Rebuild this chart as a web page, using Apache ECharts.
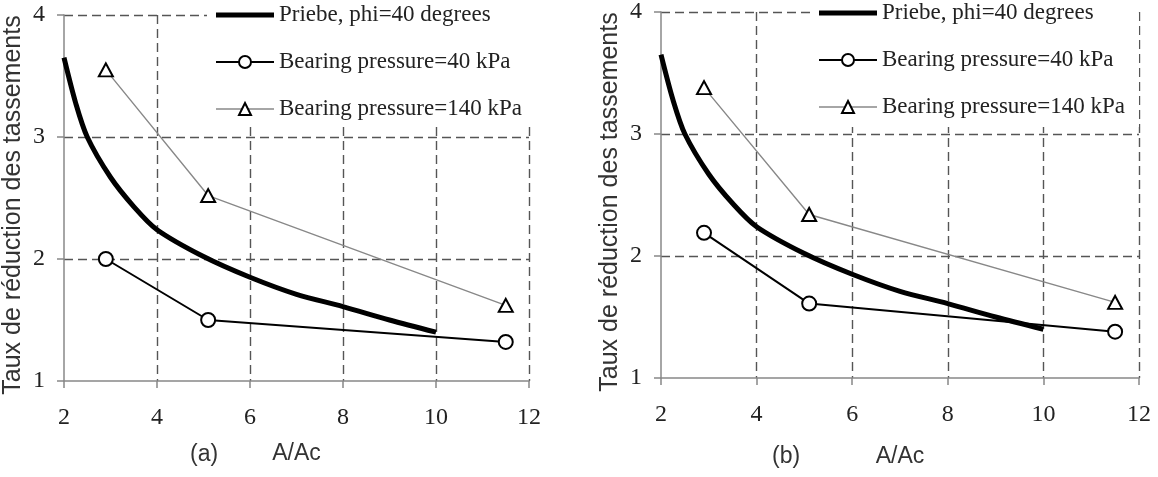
<!DOCTYPE html>
<html>
<head>
<meta charset="utf-8">
<script src="https://cdn.jsdelivr.net/npm/echarts@6/dist/echarts.min.js"></script>
<style>
html,body{margin:0;padding:0;background:#fff;}
#c{width:1158px;height:477px;}
</style>
</head>
<body>
<div id="c"></div>
<script>
// ---- data ----
const priebeX = [2, 2.25, 2.5, 3, 3.5, 4, 5, 6, 7, 8, 9, 10];
const priebeY = [3.65, 3.28, 3.0, 2.67, 2.43, 2.24, 2.02, 1.85, 1.71, 1.61, 1.50, 1.40];
const pointsX = [2.9, 5.1, 11.5];
const p40_a = [2.0, 1.5, 1.32];
const p140_a = [3.55, 2.52, 1.62];
const p40_b = [2.19, 1.61, 1.38];
const p140_b = [3.38, 2.34, 1.62];
const xTicks = [2, 4, 6, 8, 10, 12];
const yTicks = [1, 2, 3, 4];
const names = ['Priebe, phi=40 degrees', 'Bearing pressure=40 kPa', 'Bearing pressure=140 kPa'];
const panelLabels = ['(a)', '(b)'];

const zip = (xs, ys) => xs.map((x, i) => [x, ys[i]]);

const serif = 'Liberation Serif';
const sans = 'Liberation Sans';
const gridDash = {color: '#555', type: [9, 5], width: 1.4};

function xAxis(gi, gap) {
  return {
    type: 'value', gridIndex: gi, min: xTicks[0], max: xTicks[xTicks.length - 1], interval: 2,
    name: 'A/Ac', nameLocation: 'middle', nameGap: gap,
    nameTextStyle: {fontFamily: sans, fontSize: 23, color: '#333'},
    axisLine: {show: true, lineStyle: {color: '#888', width: 1.5}},
    axisTick: {show: true, length: 7, lineStyle: {color: '#888', width: 1.5}},
    axisLabel: {fontFamily: serif, fontSize: 24, color: '#222', margin: 25},
    splitLine: {show: true, showMinLine: false, lineStyle: gridDash}
  };
}
function yAxis(gi) {
  return {
    type: 'value', gridIndex: gi, min: yTicks[0], max: yTicks[yTicks.length - 1], interval: 1,
    name: 'Taux de réduction des tassements', nameLocation: 'middle', nameGap: 38,
    nameTextStyle: {fontFamily: sans, fontSize: 25, color: '#333', padding: [0, 14, 0, 0]},
    axisLine: {show: true, lineStyle: {color: '#888', width: 1.5}},
    axisTick: {show: true, length: 7, lineStyle: {color: '#888', width: 1.5}},
    axisLabel: {fontFamily: serif, fontSize: 24, color: '#222', margin: 19},
    splitLine: {show: true, showMinLine: false, lineStyle: gridDash}
  };
}
function seriesFor(gi, p40, p140) {
  return [
    {name: names[0], type: 'line', xAxisIndex: gi, yAxisIndex: gi, data: zip(priebeX, priebeY),
     smooth: 0.3, symbol: 'none', lineStyle: {color: '#000', width: 5}, itemStyle: {color: '#000'}, z: 3},
    {name: names[1], type: 'line', xAxisIndex: gi, yAxisIndex: gi, data: zip(pointsX, p40),
     symbol: 'emptyCircle', symbolSize: 14, lineStyle: {color: '#000', width: 2},
     itemStyle: {color: '#000', borderWidth: 2}, z: 4},
    {name: names[2], type: 'line', xAxisIndex: gi, yAxisIndex: gi, data: zip(pointsX, p140),
     symbol: 'emptyTriangle', symbolSize: [14, 13], lineStyle: {color: '#888', width: 1.4},
     itemStyle: {color: '#000', borderWidth: 2.2}, z: 4}
  ];
}
function legend(left, top, padTop, padBottom) {
  return {
    orient: 'vertical', left: left, top: top, padding: [padTop, 14, padBottom, 8],
    itemWidth: 58, itemHeight: 15, itemGap: 23, backgroundColor: '#fff', selectedMode: false,
    symbolKeepAspect: true,
    textStyle: {fontFamily: serif, fontSize: 23, color: '#222', lineHeight: 24},
    data: [
      {name: names[0], icon: 'path://M0,0L58,0L58,5L0,5Z', itemStyle: {color: '#000', borderWidth: 0}},
      {name: names[1], lineStyle: {width: 2}, itemStyle: {borderWidth: 2}},
      {name: names[2], lineStyle: {width: 1.5}, itemStyle: {borderWidth: 2.2}}
    ]
  };
}

const chart = echarts.init(document.getElementById('c'), null, {renderer: 'canvas'});
chart.setOption({
  animation: false,
  backgroundColor: '#fff',
  grid: [
    {left: 58, top: 15, width: 471, height: 366},
    {left: 661, top: 12, width: 478, height: 366}
  ],
  xAxis: [xAxis(0, 61), xAxis(1, 67)],
  yAxis: [yAxis(0), yAxis(1)],
  legend: [legend(207, 0, 3, 6), legend(810, 0, 1, 8)],
  graphic: [
    {type: 'text', left: 190, top: 443, style: {text: panelLabels[0], font: '23px "Liberation Sans"', fill: '#333'}},
    {type: 'text', left: 772, top: 445, style: {text: panelLabels[1], font: '23px "Liberation Sans"', fill: '#333'}}
  ],
  series: [...seriesFor(0, p40_a, p140_a), ...seriesFor(1, p40_b, p140_b)]
});
</script>
</body>
</html>
